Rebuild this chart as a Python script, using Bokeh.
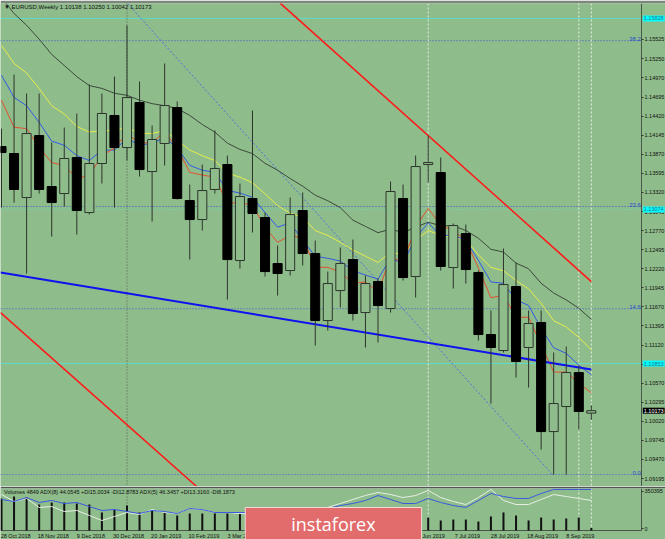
from bokeh.plotting import figure
from bokeh.layouts import column
from bokeh.models import (Range1d, FixedTicker, Span, Label, ColumnDataSource,
                          PrintfTickFormatter, LinearAxis)
from bokeh.embed import file_html
from bokeh.resources import INLINE

# ---------------- data ----------------
dates = ["28 Oct 2018", "18 Nov 2018", "9 Dec 2018", "30 Dec 2018", "20 Jan 2019",
         "10 Feb 2019", "3 Mar 2019", "24 Mar 2019", "14 Apr 2019", "5 May 2019",
         "26 May 2019", "16 Jun 2019", "7 Jul 2019", "28 Jul 2019", "18 Aug 2019",
         "8 Sep 2019"]
date_idx = [0, 3, 6, 9, 12, 15, 18, 21, 24, 27, 30, 33, 36, 39, 42, 45]

opens = [1.13982, 1.13881, 1.13246, 1.14140, 1.13405, 1.13304, 1.13823, 1.13030,
         1.13737, 1.14429, 1.13967, 1.14616, 1.13621, 1.14025, 1.14544, 1.13203,
         1.12929, 1.13362, 1.13722, 1.12338, 1.13232, 1.12958, 1.12295, 1.12194,
         1.13059, 1.12439, 1.11473, 1.11905, 1.12352, 1.11588, 1.12035, 1.11646,
         1.13232, 1.12107, 1.13722, 1.13607, 1.12237, 1.12727, 1.12165, 1.11271,
         1.11040, 1.11963, 1.11084, 1.11444, 1.09872, 1.10233, 1.10723, 1.10138]
closes = [1.13895, 1.13362, 1.14169, 1.13362, 1.13174, 1.13809, 1.13059, 1.13737,
          1.14458, 1.13967, 1.14688, 1.13650, 1.14083, 1.14573, 1.13232, 1.12929,
          1.13347, 1.13665, 1.12352, 1.13261, 1.13016, 1.12179, 1.12151, 1.13001,
          1.12439, 1.11473, 1.12006, 1.12295, 1.11574, 1.12006, 1.11689, 1.13333,
          1.12093, 1.13693, 1.13751, 1.12252, 1.12843, 1.12208, 1.11271, 1.11084,
          1.11992, 1.10882, 1.11430, 1.09872, 1.10276, 1.10723, 1.10161, 1.10173]
highs = [1.14241, 1.15020, 1.14746, 1.14746, 1.14040, 1.14256, 1.14458, 1.14876,
         1.14746, 1.14991, 1.15727, 1.14919, 1.14285, 1.15179, 1.14631, 1.13434,
         1.13722, 1.14213, 1.13852, 1.13448, 1.14501, 1.13030, 1.12554, 1.13246,
         1.13319, 1.12626, 1.12179, 1.12526, 1.12641, 1.12122, 1.12079, 1.13477,
         1.13434, 1.13852, 1.14140, 1.13823, 1.12872, 1.12857, 1.12194, 1.11617,
         1.12511, 1.12309, 1.11617, 1.11617, 1.11012, 1.11098, 1.10824, 1.10250]
lows = [1.13102, 1.13174, 1.12151, 1.13304, 1.12684, 1.13117, 1.12713, 1.13001,
        1.13448, 1.13102, 1.13780, 1.13549, 1.12900, 1.13708, 1.13218, 1.12352,
        1.12771, 1.13304, 1.11776, 1.12223, 1.12742, 1.12107, 1.11833, 1.12122,
        1.12266, 1.11112, 1.11329, 1.11660, 1.11473, 1.11084, 1.11156, 1.11588,
        1.12050, 1.11805, 1.13463, 1.12194, 1.11934, 1.12006, 1.11185, 1.10276,
        1.11012, 1.10651, 1.10507, 1.09613, 1.09252, 1.09252, 1.09901, 1.10042]

ma_gray = [1.1613, 1.1590, 1.1573, 1.1553, 1.1531, 1.1515, 1.1499, 1.1486, 1.1482, 1.1475,
           1.1472, 1.1465, 1.1460, 1.1457, 1.1453, 1.1443, 1.1430, 1.1419, 1.1403, 1.1394,
           1.1388, 1.1374, 1.1364, 1.1352, 1.1341, 1.1328, 1.1320, 1.1310, 1.1292, 1.1283,
           1.1274, 1.1279, 1.1274, 1.1282, 1.1289, 1.1284, 1.1284, 1.1277, 1.1266, 1.1250,
           1.1246, 1.1230, 1.1222, 1.1201, 1.1187, 1.1177, 1.1165, 1.1149]
ma_yellow = [1.1544, 1.1518, 1.1504, 1.1482, 1.1457, 1.1445, 1.1427, 1.1419, 1.1421, 1.1421,
             1.1426, 1.1417, 1.1417, 1.1421, 1.1407, 1.1393, 1.1385, 1.1378, 1.1360, 1.1354,
             1.1346, 1.1330, 1.1313, 1.1302, 1.1296, 1.1277, 1.1270, 1.1260, 1.1249, 1.1240,
             1.1231, 1.1246, 1.1242, 1.1263, 1.1277, 1.1270, 1.1268, 1.1263, 1.1242, 1.1224,
             1.1219, 1.1205, 1.1193, 1.1172, 1.1147, 1.1138, 1.1123, 1.1105]
ma_blue = [1.1501, 1.1469, 1.1457, 1.1433, 1.1406, 1.1400, 1.1385, 1.1378, 1.1393, 1.1393,
           1.1410, 1.1400, 1.1403, 1.1411, 1.1396, 1.1371, 1.1364, 1.1361, 1.1335, 1.1331,
           1.1325, 1.1303, 1.1282, 1.1288, 1.1263, 1.1240, 1.1237, 1.1233, 1.1219, 1.1213,
           1.1207, 1.1237, 1.1230, 1.1267, 1.1288, 1.1270, 1.1270, 1.1263, 1.1234, 1.1203,
           1.1201, 1.1177, 1.1169, 1.1136, 1.1108, 1.1100, 1.1083, 1.1069]
ma_red = [1.1465, 1.1426, 1.1424, 1.1397, 1.1375, 1.1371, 1.1352, 1.1357, 1.1385, 1.1396,
          1.1417, 1.1403, 1.1404, 1.1419, 1.1396, 1.1361, 1.1357, 1.1354, 1.1316, 1.1318,
          1.1313, 1.1282, 1.1260, 1.1270, 1.1266, 1.1224, 1.1224, 1.1217, 1.1201, 1.1203,
          1.1188, 1.1239, 1.1231, 1.1282, 1.1309, 1.1285, 1.1277, 1.1263, 1.1223, 1.1180,
          1.1184, 1.1152, 1.1152, 1.1112, 1.1073, 1.1073, 1.1057, 1.1043]

volumes = [284000, 303000, 294000, 227000, 246000, 246000, 237000, 227000, 152000, 180000,
           218000, 152000, 170000, 152000, 123000, 142000, 142000, 142000, 142000, 142000,
           140000, 135000, 130000, 135000, 130000, 125000, 130000, 120000, 125000, 115000,
           120000, 125000, 110000, 115000, 104000, 76000, 85000, 85000, 66000, 114000,
           152000, 123000, 76000, 104000, 85000, 95000, 104000, 4849]
adx_blue = [34.5, 32.1, 36.8, 30.9, 33.3, 29.7, 30.9, 26.1, 21.4, 22.6, 20.2, 17.8, 21.4,
            20.2, 17.8, 23.8, 22.6, 19.0, 19.0, 19.0, 19.0, 19.0, 20.2, 20.2, 21.4, 22.6,
            23.8, 27.3, 29.7, 33.3, 39.2, 34.5, 29.7, 29.7, 35.7, 30.9, 27.3, 25.0, 33.3,
            41.6, 38.0, 35.7, 35.7, 41.6, 46.4, 46.4, 46.4, 46.35]
adx_white = [40.4, 32.1, 35.7, 25.0, 26.1, 20.2, 21.4, 15.5, 9.5, 14.3, 19.0, 16.6, 22.6,
             19.0, 17.8, 23.8, 22.6, 19.0, 19.0, 17.8, 17.8, 17.8, 19.0, 19.0, 20.2, 22.6,
             25.0, 29.7, 34.5, 39.2, 42.8, 40.4, 36.8, 39.2, 45.2, 36.8, 32.1, 28.5, 36.8,
             46.4, 33.3, 28.5, 28.5, 34.5, 40.4, 38.0, 35.7, 33.3]

price_ticks = [1.09195, 1.09470, 1.09745, 1.10020, 1.10295, 1.10570, 1.10845, 1.11120,
               1.11395, 1.11670, 1.11945, 1.12220, 1.12495, 1.12770, 1.13045, 1.13320,
               1.13595, 1.13870, 1.14145, 1.14420, 1.14695, 1.14970, 1.15250, 1.15525]
volume_ticks = [0, 350395]
fib_names = ["0.0", "14.6", "23.6", "38.2"]
fib_prices = [1.09252, 1.11643, 1.13117, 1.15508]
cyan_levels = [1.15828, 1.13074, 1.10853]
current_price = 1.10173

red_upper = ([22.2, 47.0], [1.1605, 1.12035])
red_lower = ([-0.08, 15.55], [1.11588, 1.0908])
blue_trend = ([-0.08, 47.0], [1.12165, 1.10766])
blue_diag = ([10.04, 43.9], [1.16044, 1.09252])
sep_dark = [10]
sep_light = [34, 46, 47]

# ---------------- styling ----------------
BG = "#8fbc8b"
FRAME = "#4a564a"
WICK = "#2c352c"
SMALL = "'Liberation Sans', Arial, sans-serif"
AXFS = "5.5px"
X0, AX, X1 = -0.08, 51.0, 52.91      # plot start, price-axis position, canvas end
VOL_BASE = -18940                     # bottom edge of the indicator pane
LABEL_SHIFT = 1.125                   # date labels start at their bar (MT4 style)

n = len(opens)
xs = list(range(n))
bull = [c >= o for o, c in zip(opens, closes)]
tops = [max(o, c) for o, c in zip(opens, closes)]
bots = [min(o, c) for o, c in zip(opens, closes)]

src_bull = ColumnDataSource(dict(x=[x for x, b in zip(xs, bull) if b],
                                 top=[t for t, b in zip(tops, bull) if b],
                                 bottom=[t for t, b in zip(bots, bull) if b]))
src_bear = ColumnDataSource(dict(x=[x for x, b in zip(xs, bull) if not b],
                                 top=[t for t, b in zip(tops, bull) if not b],
                                 bottom=[t for t, b in zip(bots, bull) if not b]))
src_all = ColumnDataSource(dict(x=xs, high=highs, low=lows, g=ma_gray, yl=ma_yellow,
                                bl=ma_blue, rd=ma_red, vol=volumes, ab=adx_blue, aw=adx_white))

x_range = Range1d(X0, X1)


def style_axis(ax, size):
    ax.major_label_text_font = SMALL
    ax.major_label_text_font_size = size
    ax.major_label_text_color = "#101010"
    ax.major_tick_in = 0
    ax.minor_tick_out = 0
    ax.minor_tick_in = 0
    ax.major_tick_line_color = "#303830"


# ---------------- main price panel ----------------
p = figure(width=665, height=486, x_range=x_range, y_range=Range1d(1.0908, 1.16044),
           output_backend="svg", toolbar_location=None, y_axis_location=None,
           x_axis_location=None, min_border_left=0, min_border_right=0,
           min_border_top=3, min_border_bottom=0)
p.grid.visible = False
p.background_fill_color = BG
p.border_fill_color = "#7b877b"
p.outline_line_color = None

ya = LinearAxis(fixed_location=AX, ticker=FixedTicker(ticks=price_ticks),
                formatter=PrintfTickFormatter(format="%.5f"))
style_axis(ya, AXFS)
ya.major_tick_out = 2
ya.major_label_standoff = 1
ya.axis_line_color = FRAME
ya.axis_line_width = 1
p.add_layout(ya, "right")

# horizontal levels (drawn up to the price axis)
src_fib = ColumnDataSource(dict(y=fib_prices))
p.segment(x0=X0, x1=AX, y0="y", y1="y", source=src_fib, line_color="#3a58d8",
          line_dash="1 2", line_width=1, level="underlay")
p.segment(x0=X0, x1=AX, y0=cyan_levels[0], y1=cyan_levels[0], line_color="#5fdcc8",
          line_width=1, level="underlay")
p.segment(x0=X0, x1=AX, y0=cyan_levels[1], y1=cyan_levels[1], line_color="#5fdcc8",
          line_dash="1 2", line_width=1, level="underlay")
p.segment(x0=X0, x1=AX, y0=cyan_levels[2], y1=cyan_levels[2], line_color="#5fdcc8",
          line_width=1, level="underlay")

# vertical separators (behind the candles)
for sx in sep_dark:
    p.add_layout(Span(location=sx, dimension="height", line_color="#4f5f4f",
                      line_dash="1 2", line_width=1, level="underlay"))
for sx in sep_light:
    p.add_layout(Span(location=sx, dimension="height", line_color="#e4eee0",
                      line_dash="2 2", line_width=1, level="underlay"))

# trend lines
p.line(red_upper[0], red_upper[1], line_color="#ff1a1a", line_width=1.6)
p.line(red_lower[0], red_lower[1], line_color="#ff1a1a", line_width=1.6)
p.line(blue_diag[0], blue_diag[1], line_color="#4d6fe0", line_width=1, line_dash="2 2")

# moving averages
p.line("x", "g", source=src_all, line_color="#3b4a3b", line_width=1)
p.line("x", "yl", source=src_all, line_color="#e8ec4a", line_width=1)
p.line("x", "bl", source=src_all, line_color="#3359e6", line_width=1)
p.line("x", "rd", source=src_all, line_color="#e2512e", line_width=1)

p.line(blue_trend[0], blue_trend[1], line_color="#1010f0", line_width=2)

# candles
p.segment(x0="x", y0="low", x1="x", y1="high", source=src_all, line_color=WICK, line_width=1)
p.vbar(x="x", top="top", bottom="bottom", width=0.72, source=src_bull,
       fill_color=BG, line_color=WICK, line_width=1)
p.vbar(x="x", top="top", bottom="bottom", width=0.72, source=src_bear,
       fill_color="black", line_color="black", line_width=1)

# fib level names
for name, lv in zip(fib_names, fib_prices):
    p.add_layout(Label(x=AX - 0.05, y=lv, text=name, text_align="right", text_baseline="bottom",
                       text_font=SMALL, text_font_size="6px", text_color="#2a48d0"))

# axis tags
for lv in cyan_levels:
    p.add_layout(Label(x=AX + 0.1, y=lv, text="%.5f" % lv, text_align="left",
                       text_baseline="middle", text_font=SMALL, text_font_size=AXFS,
                       text_color="#2b6f8c", background_fill_color="#00ffff", padding=1))
p.add_layout(Label(x=AX + 0.1, y=current_price, text="%.5f" % current_price, text_align="left",
                   text_baseline="middle", text_font=SMALL, text_font_size=AXFS,
                   text_color="white", background_fill_color="black", padding=1))

p.add_layout(Label(x=0.2, y=1.1600, text="\u25BC EURUSD,Weekly  %.5f %.5f %.5f %.5f"
                   % (opens[-1], highs[-1], lows[-1], closes[-1]),
                   text_align="left", text_baseline="middle", text_font=SMALL,
                   text_font_size="6px", text_color="#101010"))

# ---------------- volume / ADX panel ----------------
q = figure(width=665, height=53, x_range=x_range, y_range=Range1d(-104170, 378800),
           output_backend="svg", toolbar_location=None, y_axis_location=None,
           x_axis_location=None, min_border_left=0, min_border_right=0,
           min_border_top=2, min_border_bottom=0)
q.grid.visible = False
q.background_fill_color = BG
q.border_fill_color = "#4f584f"
q.outline_line_color = None
q.extra_y_ranges = {"adx": Range1d(-13.07, 47.54)}

qa = LinearAxis(fixed_location=AX, ticker=FixedTicker(ticks=volume_ticks),
                formatter=PrintfTickFormatter(format="%d"))
style_axis(qa, AXFS)
qa.major_tick_out = 2
qa.major_label_standoff = 1
qa.axis_line_color = None
q.add_layout(qa, "right")

xa = LinearAxis(fixed_location=VOL_BASE,
                ticker=FixedTicker(ticks=[i + LABEL_SHIFT for i in date_idx]))
xa.major_label_overrides = {i + LABEL_SHIFT: d for i, d in zip(date_idx, dates)}
style_axis(xa, "5.5px")
xa.major_tick_out = 0
xa.major_label_standoff = 2
xa.axis_line_color = None
q.add_layout(xa, "below")

# pane frame: price-axis line and bottom edge
q.segment(x0=AX, x1=AX, y0=VOL_BASE, y1=378800, line_color=FRAME, line_width=1)
q.segment(x0=X0, x1=AX, y0=VOL_BASE, y1=VOL_BASE, line_color=FRAME, line_width=1)

src_sep_d = ColumnDataSource(dict(x=sep_dark))
src_sep_l = ColumnDataSource(dict(x=sep_light))
q.segment(x0="x", x1="x", y0=VOL_BASE, y1=378800, source=src_sep_d, line_color="#4f5f4f",
          line_dash="1 2", line_width=1, level="underlay")
q.segment(x0="x", x1="x", y0=VOL_BASE, y1=378800, source=src_sep_l, line_color="#e4eee0",
          line_dash="2 2", line_width=1, level="underlay")

q.vbar(x="x", top="vol", bottom=VOL_BASE, width=0.16, source=src_all,
       fill_color="#111111", line_color=None)
q.line("x", "aw", source=src_all, line_color="#e6efe4", line_width=1, y_range_name="adx")
q.line("x", "ab", source=src_all, line_color="#3a5ae0", line_width=1, y_range_name="adx")

q.add_layout(Label(x=0.2, y=350390,
                   text="Volumes 4849  ADX(8) 44.0545 +DI15.0034 -DI12.8783  "
                        "ADX(5) 46.3457 +DI13.3160 -DI8.1873",
                   text_align="left", text_baseline="middle", text_font=SMALL,
                   text_font_size="5.5px", text_color="#101010"))

q.add_layout(Label(x=26.45, y=47350, text="instaforex", text_align="center",
                   text_baseline="middle", text_font="Open Sans",
                   text_font_size="18px", text_color="white",
                   background_fill_color="#e26b6b", border_line_color="#f3dada",
                   border_line_width=1, padding=(46, 4)))

layout = column(p, q, spacing=0)
open("out.html", "w").write(file_html(layout, INLINE))
